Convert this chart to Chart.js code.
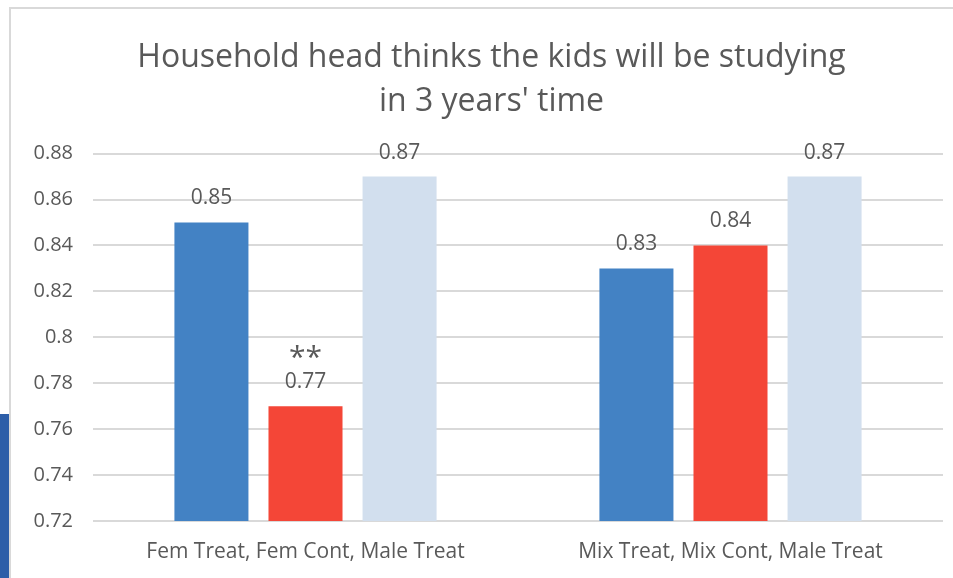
<!DOCTYPE html>
<html>
<head>
<meta charset="utf-8">
<script src="https://cdn.jsdelivr.net/npm/chart.js@4/dist/chart.umd.min.js"></script>
<style>
    html, body { margin: 0; padding: 0; background: #fff; overflow: hidden; }
    #frame { position: absolute; left: 9px; top: 7px; width: 960px; height: 600px;
             border-top: 2px solid #d9d9d9; border-left: 2px solid #d9d9d9; }
    #strip { position: absolute; left: 0; top: 414px; width: 9px; height: 170px; background: #2d5ea8; }
    #wrap { position: absolute; left: 0; top: 0; width: 953px; height: 578px; }
</style>
</head>
<body>
<div id="frame"></div>
<div id="strip"></div>
<div id="wrap"><canvas id="chart"></canvas></div>
<script>
const categories = ['Fem Treat, Fem Cont, Male Treat', 'Mix Treat, Mix Cont, Male Treat'];
const treatValues = [0.85, 0.83];
const contValues = [0.77, 0.84];
const maleValues = [0.87, 0.87];
const contMarks = ['**', ''];
const yTicks = [0.72, 0.74, 0.76, 0.78, 0.8, 0.82, 0.84, 0.86, 0.88];

const FONT = "'Open Sans', sans-serif";
const TEXT = '#595959';

// value labels above each bar, plus significance stars
const barLabels = {
    id: 'barLabels',
    afterLayout(chart) {
        // the original frame runs past the right edge, so its title sits a bit right of centre
        if (chart.titleBlock) {
            chart.titleBlock.left = 30;
            chart.titleBlock.right = chart.width;
        }
    },
    afterDatasetsDraw(chart) {
        const ctx = chart.ctx;
        ctx.save();
        ctx.fillStyle = TEXT;
        ctx.textAlign = 'center';
        ctx.textBaseline = 'middle';
        chart.data.datasets.forEach((ds, i) => {
            chart.getDatasetMeta(i).data.forEach((bar, j) => {
                ctx.font = '21px ' + FONT;
                ctx.fillText(String(ds.data[j]), bar.x, bar.y - 24);
                if (ds.marks && ds.marks[j]) {
                    ctx.font = '30px ' + FONT;
                    ctx.fillText(ds.marks[j], bar.x, bar.y - 48);
                }
            });
        });
        ctx.restore();
    }
};

new Chart(document.getElementById('chart').getContext('2d'), {
    type: 'bar',
    data: {
        labels: categories,
        datasets: [
            { label: 'Treat', data: treatValues, backgroundColor: '#4382c4' },
            { label: 'Cont', data: contValues, backgroundColor: '#f44637', marks: contMarks },
            { label: 'Male Treat', data: maleValues, backgroundColor: '#d2dfee' }
        ]
    },
    options: {
        responsive: true,
        maintainAspectRatio: false,
        animation: false,
        layout: { padding: { top: 35, right: 10, left: 0, bottom: 0 } },
        datasets: { bar: { categoryPercentage: 0.664, barPercentage: 0.787 } },
        scales: {
            y: {
                min: 0.72,
                max: 0.88,
                afterBuildTicks: (axis) => { axis.ticks = yTicks.map(v => ({ value: v })); },
                afterFit: (axis) => { axis.width = 93; },
                border: { display: false },
                grid: { color: '#d9d9d9', lineWidth: 2, drawTicks: false },
                ticks: {
                    color: TEXT,
                    font: { family: FONT, size: 20 },
                    padding: 20,
                    callback: (v) => String(Math.round(v * 100) / 100)
                }
            },
            x: {
                afterFit: (axis) => { axis.height = 57; },
                border: { display: false },
                grid: { display: false },
                ticks: { color: TEXT, font: { family: FONT, size: 21 }, padding: 10 }
            }
        },
        plugins: {
            legend: { display: false },
            tooltip: { enabled: false },
            title: {
                display: true,
                text: ['Household head thinks the kids will be studying', "in 3 years' time"],
                color: TEXT,
                font: { family: FONT, size: 32, weight: 'normal', lineHeight: 1.4 },
                padding: { top: 0, bottom: 29 }
            }
        }
    },
    plugins: [barLabels]
});
</script>
</body>
</html>
